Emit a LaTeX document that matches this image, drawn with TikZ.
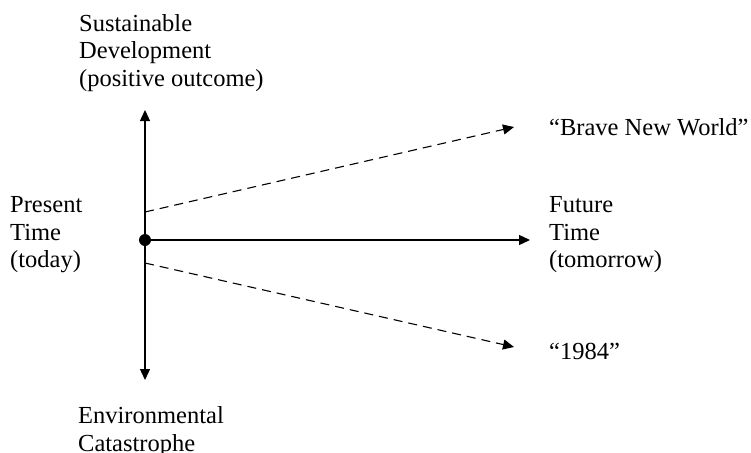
\documentclass[tikz,border=0pt]{standalone}
\usepackage{fontspec}
\setmainfont{Liberation Serif}
\usetikzlibrary{arrows.meta}
\tikzset{
  lbl/.style={anchor=north west, inner sep=0pt, align=left, font=\fontsize{24.5}{27.5}\selectfont},
  axis/.style={line width=1.3pt, -{Triangle[length=11pt,width=10pt]}},
  dashline/.style={line width=1.1pt, dash pattern=on 9pt off 6pt, -{Triangle[length=11pt,width=10pt]}},
}
\begin{document}
\begin{tikzpicture}[x=1pt,y=-1pt]
\useasboundingbox (0,0) rectangle (751,452);
% coordinates
\coordinate (top) at (145,110);
\coordinate (bot) at (145,380);
\coordinate (origin) at (145,240);
\coordinate (right) at (530,240);
\coordinate (ustart) at (145,212);
\coordinate (uend) at (514,127);
\coordinate (lstart) at (145,263);
\coordinate (lend) at (514,347);
% axes
\draw[axis] (origin) -- (top);
\draw[axis] (origin) -- (bot);
\draw[axis] (origin) -- (right);
\fill (origin) circle (6pt);
% dashed scenarios
\draw[dashline] (ustart) -- (uend);
\draw[dashline] (lstart) -- (lend);
% labels
\node[lbl] (sd) at (79,14) {Sustainable\\Development\\(positive outcome)};
\node[lbl] (pt) at (10,196.5) {Present\\Time\\(today)};
\node[lbl] (ft) at (549,196.5) {Future\\Time\\(tomorrow)};
\node[lbl] (ec) at (78,406.5) {Environmental\\Catastrophe};
\node[lbl] (bnw) at (549,118.5) {“Brave New World”};
\node[lbl] (orw) at (549,342.5) {“1984”};
\end{tikzpicture}
\end{document}
